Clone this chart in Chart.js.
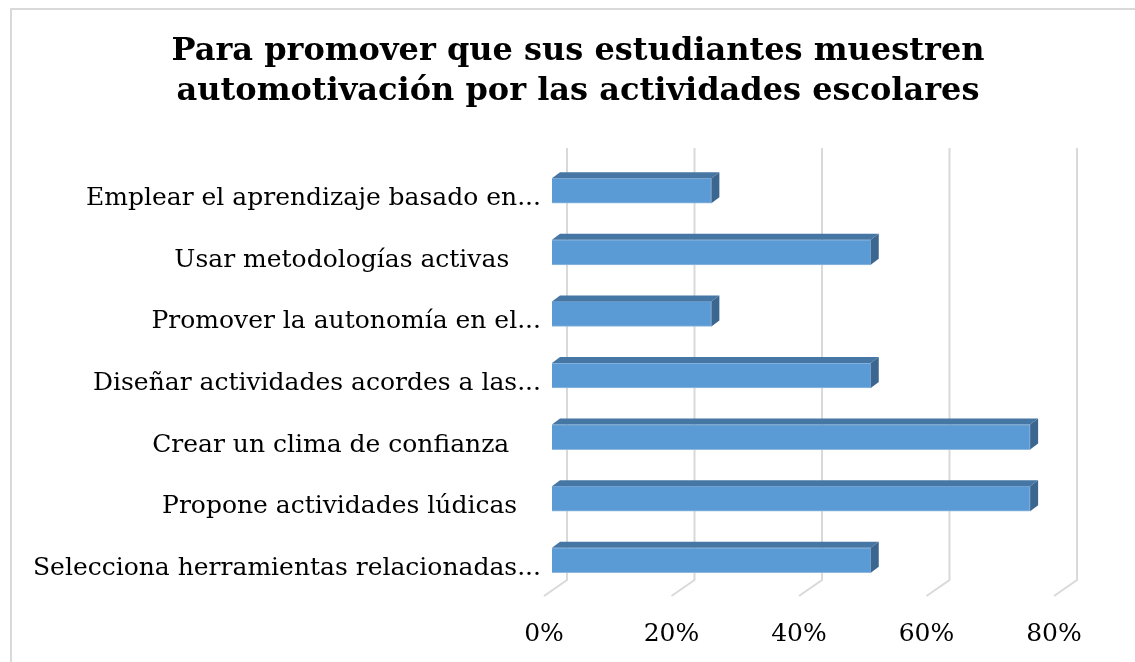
<!DOCTYPE html>
<html>
<head>
<meta charset="utf-8">
<script src="https://cdn.jsdelivr.net/npm/chart.js@4"></script>
<style>
  html, body { margin: 0; padding: 0; background: #ffffff; }
  #wrap { position: relative; width: 1135px; height: 662px; overflow: hidden; }
  #frame { position: absolute; left: 10px; top: 8px; width: 1200px; height: 700px; border: 2px solid #D9D9D9; box-sizing: border-box; }
  canvas { position: absolute; left: 0; top: 0; }
</style>
</head>
<body>
<div id="wrap">
  <div id="frame"></div>
  <canvas id="c" width="1135" height="662"></canvas>
</div>
<script>
const titleLines = ["Para promover que sus estudiantes muestren", "automotivación por las actividades escolares"];
const categories = [
  "Emplear el aprendizaje basado en...",
  "Usar metodologías activas    ",
  "Promover la autonomía en el...",
  "Diseñar actividades acordes a las...",
  "Crear un clima de confianza    ",
  "Propone actividades lúdicas   ",
  "Selecciona herramientas relacionadas..."
];
const values = [0.25, 0.50, 0.25, 0.50, 0.75, 0.75, 0.50];
const xTicks = [0, 0.2, 0.4, 0.6, 0.8];
const xTickLabels = ["0%", "20%", "40%", "60%", "80%"];

const DEPTH_X = 8, DEPTH_Y = 6;      // bar depth
const BACK_X = 15, BACK_TOP = -12, BACK_BOTTOM = -11; // back wall offsets
const FLOOR_X = -8, FLOOR_Y = 5;     // floor front offsets

const grid3d = {
  id: 'grid3d',
  beforeDatasetsDraw(chart) {
    const ctx = chart.ctx, xs = chart.scales.x, area = chart.chartArea;
    ctx.save();
    ctx.strokeStyle = '#D9D9D9';
    ctx.lineWidth = 2;
    xTicks.forEach(v => {
      const xf = xs.getPixelForValue(v);
      ctx.beginPath();
      ctx.moveTo(xf + BACK_X, area.top + BACK_TOP);
      ctx.lineTo(xf + BACK_X, area.bottom + BACK_BOTTOM);
      ctx.lineTo(xf + FLOOR_X, area.bottom + FLOOR_Y);
      ctx.stroke();
    });
    ctx.restore();
  },
  afterDatasetsDraw(chart) {
    const ctx = chart.ctx;
    const meta = chart.getDatasetMeta(0);
    ctx.save();
    meta.data.forEach(bar => {
      const p = bar.getProps(['x', 'y', 'base', 'height'], true);
      const top = p.y - p.height / 2, bottom = p.y + p.height / 2;
      const l = p.base, r = p.x;
      ctx.fillStyle = '#4676A3';
      ctx.beginPath();
      ctx.moveTo(l, top);
      ctx.lineTo(r, top);
      ctx.lineTo(r + DEPTH_X, top - DEPTH_Y);
      ctx.lineTo(l + DEPTH_X, top - DEPTH_Y);
      ctx.closePath();
      ctx.fill();
      ctx.fillStyle = '#3B6690';
      ctx.beginPath();
      ctx.moveTo(r, top);
      ctx.lineTo(r + DEPTH_X, top - DEPTH_Y);
      ctx.lineTo(r + DEPTH_X, bottom - DEPTH_Y);
      ctx.lineTo(r, bottom);
      ctx.closePath();
      ctx.fill();
    });
    ctx.restore();
  }
};

new Chart(document.getElementById('c'), {
  type: 'bar',
  data: {
    labels: categories,
    datasets: [{
      data: values,
      backgroundColor: '#5B9BD5',
      borderColor: '#8FB8E0',
      borderWidth: 1,
      barThickness: 25
    }]
  },
  plugins: [grid3d],
  options: {
    indexAxis: 'y',
    responsive: false,
    animation: false,
    layout: { padding: { left: 21, right: 0, top: 8, bottom: 0 } },
    plugins: {
      legend: { display: false },
      tooltip: { enabled: false },
      title: {
        display: true,
        text: titleLines,
        color: '#000000',
        font: { family: 'DejaVu Serif', size: 32, weight: 'bold', lineHeight: 1.25 },
        padding: { top: 24, bottom: 48 }
      }
    },
    scales: {
      x: {
        type: 'linear',
        min: 0, max: 0.8,
        afterBuildTicks(scale) { scale.ticks = xTicks.map(v => ({ value: v })); },
        afterFit(scale) { scale.height = 71; },
        grid: { display: false, drawTicks: false },
        border: { display: false },
        ticks: {
          color: '#000000',
          font: { family: 'DejaVu Serif', size: 25 },
          padding: 28,
          labelOffset: -8,
          callback: (v, i) => xTickLabels[i]
        }
      },
      y: {
        type: 'category',
        grid: { display: false, drawTicks: false },
        border: { display: false },
        afterFit(scale) { scale.width = 531; },
        ticks: {
          color: '#000000',
          font: { family: 'DejaVu Serif', size: 25 },
          padding: 11,
          labelOffset: 8,
          autoSkip: false
        }
      },
      yRight: {
        type: 'category',
        position: 'right',
        display: true,
        grid: { display: false, drawTicks: false },
        border: { display: false },
        ticks: { display: false },
        afterFit(scale) { scale.width = 73; }
      }
    }
  }
});
</script>
</body>
</html>
